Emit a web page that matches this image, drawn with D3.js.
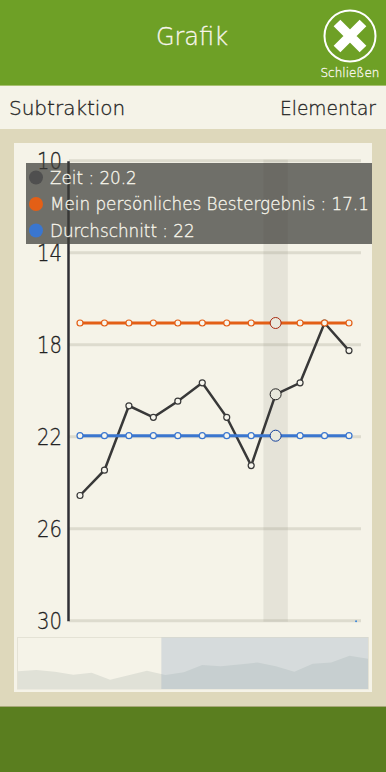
<!DOCTYPE html>
<html>
<head>
<meta charset="utf-8">
<script src="https://cdn.jsdelivr.net/npm/d3@7"></script>
<style>
html, body { margin: 0; padding: 0; background: #ded8bb; overflow: hidden; }
text { font-family: "DejaVu Sans", sans-serif; font-weight: 200; stroke-width: 0.3px; paint-order: stroke; }
</style>
</head>
<body>
<div id="viewport"></div>
<script>
const width = 386, height = 772;

const times = [23.1, 22.6, 23.3, 24.5, 23.7, 26.4, 24.7, 22.9, 24.6, 23.5, 20.7, 21.2, 20.5, 19.7, 21.2, 23.3, 20.2, 19.7, 17.1, 18.3];
const bestValue = 17.1;
const averageValue = 22;
const visibleCount = 12;
const selectedIndex = 8;
const yTicks = [10, 14, 18, 22, 26, 30];
const legendLabels = ["Zeit : 20.2", "Mein persönliches Bestergebnis : 17.1", "Durchschnitt : 22"];
const legendColors = ["#4f4f4f", "#e35f16", "#3a76cf"];

const shown = times.slice(-visibleCount);
const indexes = d3.range(visibleCount);

const svg = d3.select("#viewport").append("svg").attr("width", width).attr("height", height).style("display", "block");

// page blocks
function block(x, y, w, h, fill) {
	svg.append("rect").attr("x", x).attr("y", y).attr("width", w).attr("height", h).attr("fill", fill);
}
function label(x, y, anchor, color, size, txt) {
	return svg.append("text").attr("x", x).attr("y", y).attr("text-anchor", anchor)
		.attr("fill", color).attr("stroke", color).style("font-size", size + "px").text(txt);
}
block(0, 0, width, 772, "#ded8bb");
block(0, 0, width, 85, "#6ea026");
block(0, 85, width, 1, "#a8c070");
block(0, 86, width, 43, "#f5f3e8");
block(14, 143, 358, 549, "#f5f3e8");
block(0, 706, width, 1, "#a8a878");
block(0, 707, width, 65, "#5a7e1f");

label(192, 45, "middle", "#f8f6ec", 24, "Grafik");
label(9, 115, "start", "#222", 20, "Subtraktion");
label(376, 115, "end", "#222", 20, "Elementar").attr("textLength", 96).attr("lengthAdjust", "spacingAndGlyphs");

// close button
const close = svg.append("g").attr("transform", "translate(350,36)");
close.append("circle").attr("r", 25.5).attr("fill", "none").attr("stroke", "#fff").attr("stroke-width", 2);
close.append("path").attr("d", "M-13,-13L13,13M13,-13L-13,13").attr("stroke", "#fff").attr("stroke-width", 9.5);
label(350, 77, "middle", "#f8f6ec", 12, "Schließen");

// main chart
const x = d3.scaleLinear().domain([0, visibleCount - 1]).range([80, 349]);
const y = d3.scaleLinear().domain([10, 30]).range([159.7, 619.7]);

const grid = svg.append("g").attr("transform", "translate(0,1)");
grid.selectAll("line").data(yTicks).enter().append("line")
	.attr("x1", 69).attr("x2", 361)
	.attr("y1", d => y(d)).attr("y2", d => y(d))
	.attr("stroke", "#dddbce").attr("stroke-width", 3);

const band = x(1) - x(0);
svg.append("rect").attr("x", x(selectedIndex) - band / 2).attr("y", y(10)).attr("width", band).attr("height", y(30) - y(10) + 2)
	.attr("fill", "#8f9080").attr("fill-opacity", 0.15);

const yAxis = d3.axisLeft(y).tickValues(yTicks).tickSize(0).tickPadding(6);
const axisG = svg.append("g").attr("transform", "translate(68,1)").call(yAxis);
axisG.select(".domain").attr("stroke", "#2f2f35").attr("stroke-width", 2.5);
axisG.selectAll("text").attr("fill", "#222").attr("stroke", "#222").attr("textLength", 25).attr("lengthAdjust", "spacingAndGlyphs")
	.style("font-size", "23px").attr("dy", "0.36em");

const line = d3.line().x((d, i) => x(i)).y(d => y(d));

function drawSeries(values, color, bigStroke, lineWidth) {
	const g = svg.append("g");
	g.append("path").attr("d", line(values)).attr("fill", "none").attr("stroke", color).attr("stroke-width", lineWidth);
	g.selectAll("circle").data(values).enter().append("circle")
		.attr("cx", (d, i) => x(i)).attr("cy", d => y(d))
		.attr("r", (d, i) => i === selectedIndex ? 5.5 : 3)
		.attr("fill", (d, i) => i === selectedIndex ? "#e9e9dd" : "#f7f6ee")
		.attr("stroke", (d, i) => i === selectedIndex ? bigStroke : color)
		.attr("stroke-width", (d, i) => i === selectedIndex ? 1 : 1.2);
}
drawSeries(shown, "#383838", "#222222", 2.5);
drawSeries(indexes.map(() => bestValue), "#e35f16", "#a82a10", 3);
drawSeries(indexes.map(() => averageValue), "#3a76cf", "#123f9c", 3);

// tiny clipped marker on the bottom grid line
svg.append("circle").attr("cx", x(11.29)).attr("cy", y(30) + 1.5).attr("r", 1).attr("fill", "#3a86d8");

// overview
const miniX = d3.scaleLinear().domain([0, times.length - 1]).range([18, 368]);
const miniY = d3.scaleLinear().domain([10, 30]).range([637.5, 689]);
svg.append("rect").attr("x", 17.5).attr("y", 637.5).attr("width", 351).attr("height", 51.5).attr("fill", "none").attr("stroke", "#e4e2d5");
const area = d3.area().x((d, i) => miniX(i)).y0(689).y1(d => miniY(d));
svg.append("path").attr("d", area(times)).attr("fill", "#e0e1d7");
const brushStart = miniX(times.length - visibleCount);
svg.append("rect").attr("x", brushStart - 4).attr("y", 637.5).attr("width", 368 - brushStart + 4).attr("height", 51.5).attr("fill", "#8fa6c0").attr("fill-opacity", 0.3);

// legend box over the chart
svg.append("rect").attr("x", 26).attr("y", 163).attr("width", 346).attr("height", 81).attr("fill", "#3c3c38").attr("fill-opacity", 0.72);
const legend = svg.selectAll(".legend").data(legendLabels).enter().append("g").attr("class", "legend")
	.attr("transform", (d, i) => "translate(36," + (177.5 + i * 26.5) + ")");
legend.append("circle").attr("r", 7).attr("fill", (d, i) => legendColors[i]);
legend.append("text").attr("x", 14).attr("dy", "0.36em").attr("fill", "#f8f6ec").attr("stroke", "#f8f6ec").style("font-size", "16.8px").text(d => d);
</script>
</body>
</html>
